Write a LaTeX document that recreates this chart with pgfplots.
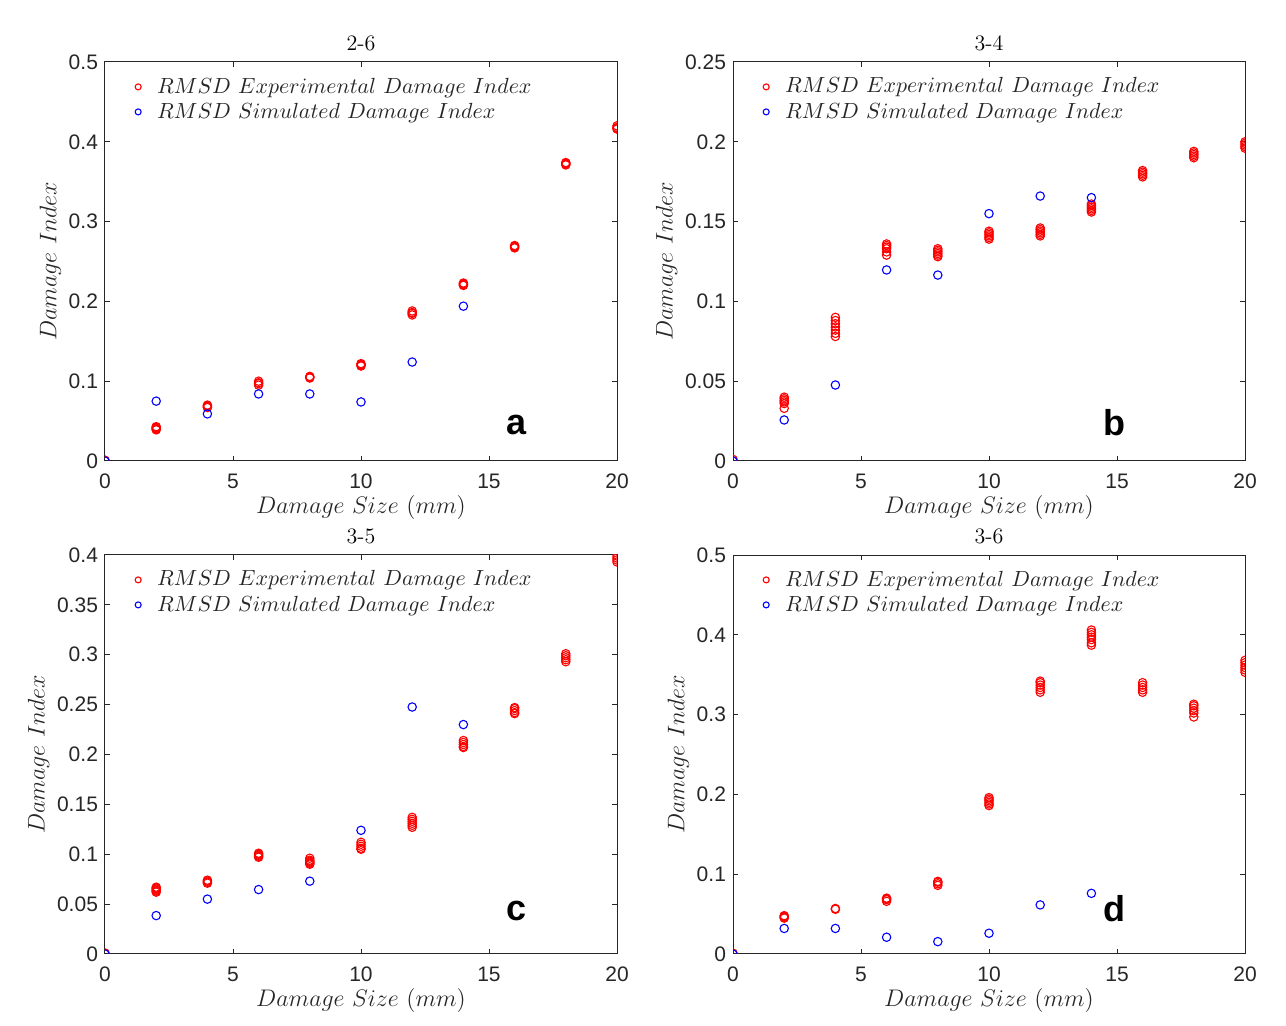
\documentclass[border=0pt]{standalone}
\usepackage{fontspec}
\usepackage{pgfplots}
\pgfplotsset{compat=1.18}
\newfontfamily\helv{Liberation Sans}
\definecolor{axgray}{rgb}{0.15,0.15,0.15}
\pgfplotsset{
  myax/.style={
    scale only axis, width=256pt, height=199.5pt,
    xmin=0, xmax=20, xtick={0,5,10,15,20},
    axis line style={axgray, line width=0.5pt},
    tick style={axgray, line width=0.5pt},
    major tick length=2.5pt,
    tick align=inside,
    clip marker paths=true,
    scaled y ticks=false,
    /pgf/number format/assume math mode=true,
    ticklabel style={font=\helv\fontsize{10.5}{12}\selectfont, text=axgray},
    yticklabel style={/pgf/number format/fixed, /pgf/number format/precision=2},
    xticklabel style={yshift=-3pt},
    xlabel={$Damage\ Size\ (mm)$},
    ylabel={$Damage\ Index$},
    label style={font=\fontsize{11.5}{13}\selectfont, text=axgray},
    xlabel style={yshift=3.5pt},
    ylabel style={yshift=-3pt},
    title style={font=\fontsize{11}{13}\selectfont, yshift=-4pt},
    legend style={draw=none, fill=none, at={(0,1)}, anchor=north west,
      xshift=6pt, yshift=-3.7pt, font=\fontsize{10.7}{12.5}\selectfont,
      row sep=-0.6pt, text=axgray},
    legend cell align=left,
    legend image code/.code={\draw[mark repeat=1,#1,mark size=1.5pt] plot coordinates {(0.25cm,0cm)};
      \path (0,0) (0.25cm+7.2pt,0);},
    exp/.style={only marks, mark=o, mark size=2.1pt, color=red, line width=0.55pt},
    sim/.style={only marks, mark=o, mark size=2.1pt, color=blue, line width=0.55pt},
  }
}
\begin{document}
\begin{tikzpicture}
\path[use as bounding box] (0,0) rectangle (643pt,513pt);
% ---------- a ----------
\begin{axis}[myax, at={(52.5pt,282.5pt)}, anchor=south west,
  title={2-6}, ymin=0, ymax=0.5, ytick={0,0.1,0.2,0.3,0.4,0.5}]
\addplot[exp] coordinates {
(0,0) (0,0.001)
(2,0.039) (2,0.040) (2,0.041) (2,0.042) (2,0.043)
(4,0.067) (4,0.068) (4,0.069) (4,0.070)
(6,0.095) (6,0.097) (6,0.098) (6,0.100)
(8,0.104) (8,0.105) (8,0.106)
(10,0.119) (10,0.120) (10,0.121) (10,0.122)
(12,0.183) (12,0.185) (12,0.186) (12,0.188)
(14,0.220) (14,0.221) (14,0.222) (14,0.223)
(16,0.267) (16,0.268) (16,0.269) (16,0.270)
(18,0.371) (18,0.372) (18,0.373) (18,0.374)
(20,0.416) (20,0.417) (20,0.418) (20,0.420)
};
\addlegendentry{$RMSD\ Experimental\ Damage\ Index$}
\addplot[sim] coordinates {
(0,0) (2,0.075) (4,0.059) (6,0.084) (8,0.084) (10,0.074) (12,0.124) (14,0.194)
};
\addlegendentry{$RMSD\ Simulated\ Damage\ Index$}
\node[font=\helv\bfseries\fontsize{18}{20}\selectfont] at (rel axis cs:0.804,0.09) {a};
\end{axis}
% ---------- b ----------
\begin{axis}[myax, at={(366.5pt,282.5pt)}, anchor=south west,
  title={3-4}, ymin=0, ymax=0.25, ytick={0,0.05,0.1,0.15,0.2,0.25}]
\addplot[exp] coordinates {
(0,0) (0,0.001)
(2,0.033) (2,0.036) (2,0.037) (2,0.038) (2,0.039) (2,0.040)
(4,0.078) (4,0.080) (4,0.082) (4,0.084) (4,0.086) (4,0.088) (4,0.090)
(6,0.129) (6,0.131) (6,0.133) (6,0.134) (6,0.135) (6,0.136)
(8,0.128) (8,0.129) (8,0.130) (8,0.131) (8,0.132) (8,0.133)
(10,0.139) (10,0.140) (10,0.141) (10,0.142) (10,0.143) (10,0.144)
(12,0.141) (12,0.142) (12,0.143) (12,0.144) (12,0.145) (12,0.146)
(14,0.156) (14,0.157) (14,0.158) (14,0.159) (14,0.160) (14,0.161)
(16,0.178) (16,0.179) (16,0.180) (16,0.181) (16,0.182)
(18,0.190) (18,0.191) (18,0.192) (18,0.193) (18,0.194)
(20,0.196) (20,0.197) (20,0.198) (20,0.199) (20,0.200)
};
\addlegendentry{$RMSD\ Experimental\ Damage\ Index$}
\addplot[sim] coordinates {
(0,0) (2,0.0257) (4,0.0476) (6,0.1197) (8,0.1165) (10,0.155) (12,0.166) (14,0.165)
};
\addlegendentry{$RMSD\ Simulated\ Damage\ Index$}
\node[font=\helv\bfseries\fontsize{18}{20}\selectfont] at (rel axis cs:0.746,0.095) {b};
\end{axis}
% ---------- c ----------
\begin{axis}[myax, at={(52.5pt,36pt)}, anchor=south west,
  title={3-5}, ymin=0, ymax=0.4, ytick={0,0.05,0.1,0.15,0.2,0.25,0.3,0.35,0.4}]
\addplot[exp] coordinates {
(0,0) (0,0.001)
(2,0.062) (2,0.063) (2,0.064) (2,0.065) (2,0.066) (2,0.067)
(4,0.071) (4,0.072) (4,0.073) (4,0.074)
(6,0.097) (6,0.098) (6,0.099) (6,0.100) (6,0.101)
(8,0.090) (8,0.091) (8,0.092) (8,0.093) (8,0.094) (8,0.096)
(10,0.105) (10,0.106) (10,0.108) (10,0.110) (10,0.112)
(12,0.127) (12,0.129) (12,0.131) (12,0.133) (12,0.135) (12,0.137)
(14,0.207) (14,0.208) (14,0.210) (14,0.212) (14,0.214)
(16,0.241) (16,0.242) (16,0.244) (16,0.246) (16,0.247)
(18,0.293) (18,0.295) (18,0.297) (18,0.299) (18,0.301)
(20,0.393) (20,0.395) (20,0.397) (20,0.399)
};
\addlegendentry{$RMSD\ Experimental\ Damage\ Index$}
\addplot[sim] coordinates {
(0,0) (2,0.0385) (4,0.055) (6,0.0646) (8,0.073) (10,0.124) (12,0.2476) (14,0.230)
};
\addlegendentry{$RMSD\ Simulated\ Damage\ Index$}
\node[font=\helv\bfseries\fontsize{18}{20}\selectfont] at (rel axis cs:0.804,0.108) {c};
\end{axis}
% ---------- d ----------
\begin{axis}[myax, at={(366.5pt,36pt)}, anchor=south west,
  title={3-6}, ymin=0, ymax=0.5, ytick={0,0.1,0.2,0.3,0.4,0.5}]
\addplot[exp] coordinates {
(0,0) (0,0.001)
(2,0.045) (2,0.046) (2,0.047) (2,0.048)
(4,0.056) (4,0.057)
(6,0.066) (6,0.068) (6,0.069) (6,0.070)
(8,0.086) (8,0.088) (8,0.090) (8,0.091)
(10,0.186) (10,0.188) (10,0.190) (10,0.192) (10,0.194) (10,0.196)
(12,0.328) (12,0.331) (12,0.334) (12,0.337) (12,0.340) (12,0.342)
(14,0.387) (14,0.390) (14,0.394) (14,0.397) (14,0.400) (14,0.403) (14,0.406)
(16,0.328) (16,0.331) (16,0.334) (16,0.337) (16,0.340)
(18,0.297) (18,0.302) (18,0.305) (18,0.308) (18,0.311) (18,0.313)
(20,0.353) (20,0.356) (20,0.359) (20,0.362) (20,0.365) (20,0.368)
};
\addlegendentry{$RMSD\ Experimental\ Damage\ Index$}
\addplot[sim] coordinates {
(0,0) (2,0.032) (4,0.032) (6,0.021) (8,0.0155) (10,0.026) (12,0.0615) (14,0.076)
};
\addlegendentry{$RMSD\ Simulated\ Damage\ Index$}
\node[font=\helv\bfseries\fontsize{18}{20}\selectfont] at (rel axis cs:0.746,0.113) {d};
\end{axis}
\end{tikzpicture}
\end{document}
